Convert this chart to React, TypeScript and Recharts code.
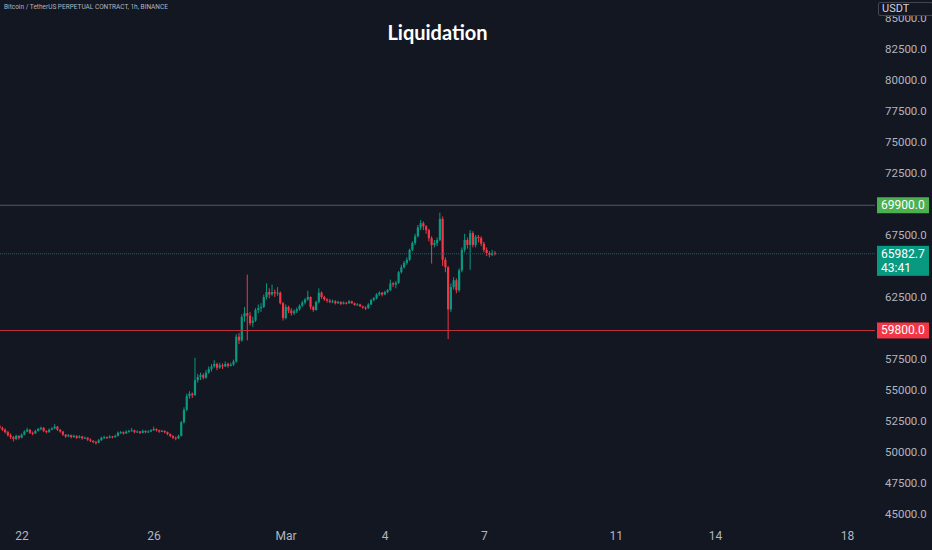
import React from 'react';
import { ComposedChart, Bar, XAxis, YAxis, ReferenceLine } from 'recharts';

// 2h candles, hours counted from 22 Feb 00:00
const START_HOUR = -16;
const STEP_HOURS = 2;

// [open, high, low, close]
const candles: number[][] = [
  [52100, 52250, 51850, 51950], [51950, 52050, 51700, 51800], [51800, 51900, 51500, 51600],
  [51600, 51700, 51250, 51350], [51350, 51500, 51050, 51200], [51200, 51300, 50850, 51050],
  [51050, 51400, 50950, 51300], [51300, 51350, 51000, 51150], [51150, 51500, 51100, 51400],
  [51400, 51750, 51350, 51650], [51650, 51950, 51600, 51800], [51800, 51850, 51450, 51550],
  [51550, 51650, 51350, 51500], [51500, 51800, 51450, 51700], [51700, 51950, 51650, 51850],
  [51850, 52050, 51750, 51950], [51950, 52000, 51600, 51700], [51700, 51750, 51500, 51600],
  [51600, 51900, 51550, 51800], [51800, 52000, 51750, 51900], [51900, 52250, 51850, 52050],
  [52050, 52100, 51700, 51800], [51800, 51850, 51550, 51650], [51650, 51700, 51300, 51400],
  [51400, 51450, 51150, 51250], [51250, 51450, 51200, 51350], [51350, 51400, 51100, 51200],
  [51200, 51400, 51150, 51300], [51300, 51350, 51050, 51150], [51150, 51350, 51100, 51250],
  [51250, 51300, 51000, 51100], [51100, 51250, 51050, 51150], [51150, 51200, 50900, 51000],
  [51000, 51100, 50800, 50900], [50900, 50950, 50700, 50800], [50800, 50900, 50600, 50750],
  [50750, 51050, 50700, 50950], [50950, 51250, 50900, 51150], [51150, 51300, 51050, 51200],
  [51200, 51250, 51050, 51150], [51150, 51350, 51100, 51250], [51250, 51300, 51100, 51200],
  [51200, 51400, 51150, 51300], [51300, 51650, 51250, 51550], [51550, 51700, 51450, 51600],
  [51600, 51650, 51400, 51500], [51500, 51750, 51450, 51650], [51650, 51800, 51550, 51700],
  [51700, 51950, 51650, 51750], [51750, 51800, 51500, 51600], [51600, 51750, 51550, 51650],
  [51650, 51700, 51450, 51550], [51550, 51800, 51500, 51700], [51700, 51750, 51500, 51600],
  [51600, 51750, 51550, 51650], [51650, 51850, 51600, 51750], [51750, 52050, 51700, 51850],
  [51850, 51900, 51650, 51750], [51750, 51800, 51550, 51650], [51650, 51800, 51600, 51700],
  [51700, 51750, 51500, 51600], [51600, 51650, 51350, 51450], [51450, 51500, 51200, 51300],
  [51300, 51350, 51050, 51150], [51150, 51250, 50950, 51100], [51100, 51400, 51050, 51300],
  [51300, 52500, 51250, 52400], [52400, 53600, 52300, 53400], [53400, 54700, 53300, 54500],
  [54500, 54900, 54300, 54700], [54700, 54800, 54350, 54600], [54600, 57600, 54500, 55800],
  [55800, 56300, 55600, 56050], [56050, 56400, 55800, 56200], [56200, 56350, 55850, 56000],
  [56000, 56600, 55900, 56400], [56400, 56900, 56300, 56700], [56700, 57100, 56500, 56900],
  [56900, 57400, 56800, 57100], [57100, 57200, 56600, 56800], [56800, 57200, 56700, 57000],
  [57000, 57150, 56700, 56900], [56900, 57300, 56850, 57100], [57100, 57200, 56800, 56950],
  [56950, 57200, 56900, 57050], [57050, 57450, 56950, 57300], [57300, 59500, 57200, 59300],
  [59300, 59600, 58700, 59000], [59000, 61100, 58900, 60900], [60900, 61700, 60500, 61200],
  [61200, 64300, 59000, 61000], [61000, 61300, 60200, 60400], [60400, 60900, 60100, 60600],
  [60600, 61600, 60500, 61450], [61450, 61900, 61200, 61600], [61600, 62000, 61300, 61700],
  [61700, 62700, 61600, 62500], [62500, 63600, 62300, 62900], [62900, 63200, 62400, 62700],
  [62700, 63500, 62600, 62900], [62900, 63100, 62500, 62800], [62800, 63300, 62600, 62850],
  [62850, 62950, 61900, 62000], [62000, 62100, 60600, 60800], [60800, 61900, 60700, 61700],
  [61700, 61800, 61200, 61400], [61400, 61600, 61000, 61200], [61200, 61500, 61050, 61350],
  [61350, 61650, 61200, 61500], [61500, 61900, 61400, 61800], [61800, 62200, 61700, 62050],
  [62050, 62400, 61900, 62300], [62300, 63000, 62200, 62500], [62500, 62550, 61500, 61700],
  [61700, 61800, 61300, 61450], [61450, 62200, 61400, 62100], [62100, 63200, 62000, 62850],
  [62850, 62950, 62350, 62500], [62500, 62600, 62200, 62300], [62300, 62400, 62050, 62200],
  [62200, 62350, 62000, 62100], [62100, 62300, 62000, 62150], [62150, 62250, 61900, 62000],
  [62000, 62200, 61950, 62100], [62100, 62150, 61850, 61950], [61950, 62150, 61900, 62050],
  [62050, 62100, 61900, 62000], [62000, 62250, 61950, 62150], [62150, 62200, 61950, 62000],
  [62000, 62050, 61800, 61850], [61850, 62000, 61800, 61900], [61900, 61950, 61700, 61750],
  [61750, 61800, 61550, 61650], [61650, 61750, 61450, 61600], [61600, 62000, 61550, 61900],
  [61900, 62350, 61850, 62250], [62250, 62500, 62150, 62400], [62400, 62800, 62300, 62700],
  [62700, 62950, 62600, 62850], [62850, 62900, 62550, 62700], [62700, 63000, 62650, 62900],
  [62900, 63150, 62800, 63050], [63050, 63900, 63000, 63600], [63600, 63700, 63300, 63500],
  [63500, 63800, 63200, 63650], [63650, 64600, 63550, 64500], [64500, 65100, 64400, 64900],
  [64900, 65400, 64800, 65250], [65250, 65700, 65100, 65500], [65500, 66400, 65400, 66300],
  [66300, 67000, 66200, 66850], [66850, 67600, 66700, 67400], [67400, 68300, 67300, 68100],
  [68100, 68700, 67900, 68450], [68450, 68600, 67900, 68200], [68200, 68300, 67600, 67900],
  [67900, 68000, 67000, 67250], [67250, 67400, 65200, 66700], [66700, 67100, 66500, 66850],
  [66850, 67300, 66600, 67100], [67100, 69300, 67000, 68800], [68800, 69000, 65000, 65500],
  [65500, 65700, 64500, 64900], [64900, 65000, 59100, 61500], [61500, 63600, 61300, 63300],
  [63300, 64100, 63100, 63850], [63850, 64000, 62800, 63050], [63050, 64800, 62900, 64650],
  [64650, 66500, 64500, 66300], [66300, 67600, 66100, 67100], [67100, 67300, 66400, 66700],
  [66700, 67900, 64700, 67650], [67650, 67800, 66500, 66700], [66700, 67500, 66500, 67350],
  [67350, 67500, 66900, 67250], [67250, 67400, 66600, 66800], [66800, 66950, 66100, 66300],
  [66300, 66500, 65800, 66050], [66050, 66200, 65700, 65900], [65900, 66300, 65800, 66050],
  [66050, 66200, 65850, 65982.7],
];

// 60000 / 65000 / 70000 sit under the price tags in the reference, so they are not listed
const priceTicks = [45000, 47500, 50000, 52500, 55000, 57500, 62500, 67500, 72500, 75000, 77500, 80000, 82500, 85000];
const dateTicks = [0, 96, 192, 264, 336, 432, 504, 600];
const dateLabels = ['22', '26', 'Mar', '4', '7', '11', '14', '18'];

const resistance = 69900;
const support = 59800;
const lastPrice = 65982.7;
const countdown = '43:41';

const BG = '#131722';
const UP = '#089981';
const DOWN = '#f23645';
const TEXT = '#b2b5be';

const rows = candles.map((c, i) => ({
  t: START_HOUR + i * STEP_HOURS,
  open: c[0],
  high: c[1],
  low: c[2],
  close: c[3],
}));

const Candle = (props: any) => {
  const { x, y, width, height, payload } = props;
  if (!payload || y == null) return null;
  const top = Math.min(y, y + height);
  const h = Math.abs(height);
  const span = payload.high - payload.low || 1;
  const py = (v: number) => top + ((payload.high - v) / span) * h;
  const cx = x + width / 2;
  const up = payload.close >= payload.open;
  const color = up ? UP : DOWN;
  const bTop = py(Math.max(payload.open, payload.close));
  const bBot = py(Math.min(payload.open, payload.close));
  return (
    <g>
      <line x1={cx} x2={cx} y1={top} y2={top + h} stroke={color} strokeWidth={1} />
      <rect x={cx - 1.1} y={bTop} width={2.2} height={Math.max(bBot - bTop, 1)} fill={color} />
    </g>
  );
};

const PriceTag = (props: any) => {
  const { viewBox, fill, text, sub } = props;
  if (!viewBox) return null;
  const left = viewBox.x + viewBox.width + 2;
  const h = sub ? 30 : 16;
  const top = viewBox.y - 8;
  return (
    <g>
      <rect x={left} y={top} width={52} height={h} fill={fill} />
      <text x={left + 4} y={top + 12} fill="#ffffff" fontSize={12} fontFamily="Roboto">{text}</text>
      {sub && (
        <text x={left + 4} y={top + 26} fill="#ffffff" fontSize={12} fontFamily="Roboto">{sub}</text>
      )}
    </g>
  );
};

const App: React.FC = () => {
  return (
    <div style={{ position: 'absolute', left: 0, top: 0, width: 932, height: 550, background: BG, overflow: 'hidden', fontFamily: 'Roboto' }}>
      <ComposedChart width={932} height={550} data={rows} margin={{ top: 0, right: 0, left: 0, bottom: 0 }}>
        <XAxis
          dataKey="t"
          type="number"
          domain={[-16, 620]}
          ticks={dateTicks}
          tickFormatter={(v: number) => dateLabels[dateTicks.indexOf(v)] ?? ''}
          axisLine={false}
          tickLine={false}
          tickSize={0}
          tickMargin={7}
          height={26}
          interval={0}
          allowDataOverflow
          tick={{ fill: TEXT, fontSize: 12, fontFamily: 'Roboto' }}
        />
        <YAxis
          orientation="right"
          type="number"
          domain={[44194, 86452]}
          ticks={priceTicks}
          tickFormatter={(v: number) => v.toFixed(1)}
          axisLine={false}
          tickLine={false}
          tickSize={0}
          tickMargin={10}
          width={57}
          interval={0}
          allowDataOverflow
          tick={{ fill: TEXT, fontSize: 11.5, fontFamily: 'Roboto' }}
        />
        <ReferenceLine y={resistance} stroke="#4f5a66" strokeWidth={1}
          label={<PriceTag fill="#4caf50" text={resistance.toFixed(1)} />} />
        <ReferenceLine y={support} stroke="#c2303d" strokeWidth={1}
          label={<PriceTag fill={DOWN} text={support.toFixed(1)} />} />
        <ReferenceLine y={lastPrice} stroke="#2f5a5c" strokeWidth={1} strokeDasharray="1 1"
          label={<PriceTag fill={UP} text={lastPrice.toFixed(1)} sub={countdown} />} />
        <Bar
          dataKey={(d: any) => [d.low, d.high]}
          barSize={2}
          shape={<Candle />}
          isAnimationActive={false}
        />
      </ComposedChart>
      <div style={{ position: 'absolute', left: 4, top: 3, fontSize: 6.5, color: TEXT, whiteSpace: 'nowrap' }}>
        Bitcoin / TetherUS PERPETUAL CONTRACT, 1h, BINANCE
      </div>
      <div style={{ position: 'absolute', left: 0, top: 20, width: 875, textAlign: 'center', fontSize: 20, lineHeight: '24px', fontWeight: 700, color: '#ffffff', fontFamily: 'Lato' }}>
        Liquidation
      </div>
      <div style={{ position: 'absolute', left: 878, top: 2, width: 50, height: 12, background: BG, border: '1px solid #434651', borderRadius: 2, color: '#d1d4dc', fontSize: 11, lineHeight: '12px', paddingLeft: 3, boxSizing: 'content-box' }}>
        USDT
      </div>
    </div>
  );
};

export default App;
